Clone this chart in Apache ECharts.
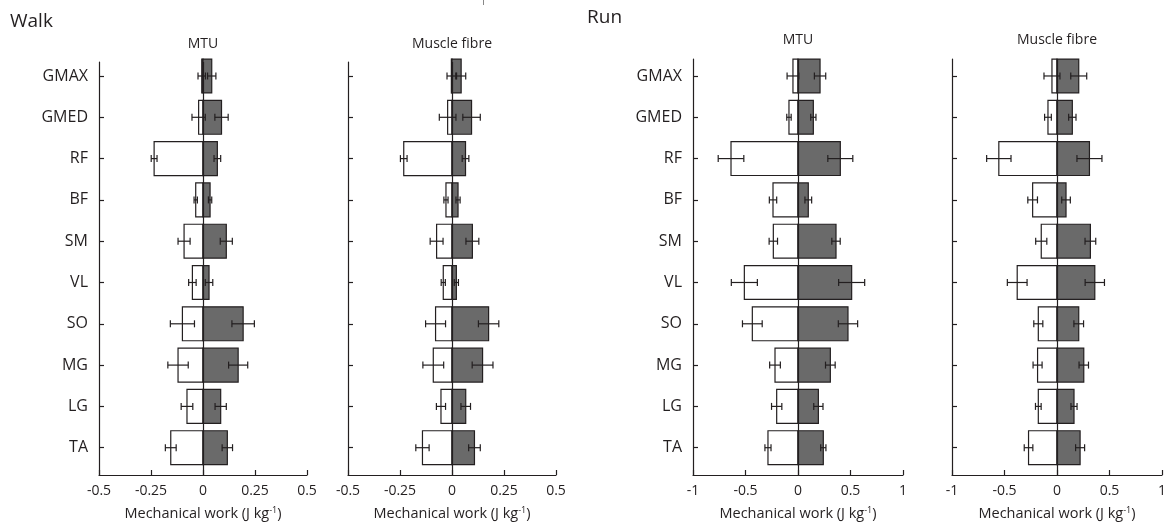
<!DOCTYPE html>
<html>
<head>
<meta charset="utf-8">
<script src="https://cdn.jsdelivr.net/npm/echarts@6/dist/echarts.min.js"></script>
<style>
  html, body { margin: 0; padding: 0; background: #fff; }
  #chart { width: 1169px; height: 530px; }
</style>
</head>
<body>
<div id="chart"></div>
<script>
// muscles, top to bottom
const muscles = ["GMAX", "GMED", "RF", "BF", "SM", "VL", "SO", "MG", "LG", "TA"];

// Walk - MTU (negative / positive work, mean and SD)
const walkMtuNeg   = [-0.006, -0.021, -0.235, -0.035, -0.091, -0.051, -0.099, -0.120, -0.077, -0.155];
const walkMtuNegSd = [0.018, 0.032, 0.014, 0.008, 0.029, 0.018, 0.058, 0.049, 0.028, 0.026];
const walkMtuPos   = [0.042, 0.089, 0.069, 0.034, 0.112, 0.029, 0.193, 0.169, 0.085, 0.117];
const walkMtuPosSd = [0.020, 0.032, 0.016, 0.008, 0.029, 0.018, 0.054, 0.046, 0.027, 0.025];

// Walk - muscle fibre
const walkFibNeg   = [-0.003, -0.021, -0.232, -0.029, -0.074, -0.042, -0.079, -0.090, -0.053, -0.142];
const walkFibNegSd = [0.021, 0.040, 0.016, 0.010, 0.031, 0.010, 0.048, 0.050, 0.022, 0.032];
const walkFibPos   = [0.044, 0.094, 0.065, 0.029, 0.098, 0.021, 0.176, 0.147, 0.066, 0.108];
const walkFibPosSd = [0.022, 0.042, 0.016, 0.010, 0.031, 0.010, 0.049, 0.050, 0.023, 0.028];

// Run - MTU
const runMtuNeg   = [-0.048, -0.086, -0.638, -0.238, -0.235, -0.511, -0.435, -0.219, -0.203, -0.286];
const runMtuNegSd = [0.056, 0.021, 0.122, 0.035, 0.040, 0.124, 0.094, 0.051, 0.049, 0.029];
const runMtuPos   = [0.210, 0.146, 0.403, 0.098, 0.362, 0.511, 0.476, 0.308, 0.194, 0.241];
const runMtuPosSd = [0.054, 0.025, 0.119, 0.032, 0.040, 0.124, 0.092, 0.046, 0.044, 0.025];

// Run - muscle fibre
const runFibNeg   = [-0.048, -0.086, -0.554, -0.232, -0.150, -0.379, -0.178, -0.185, -0.178, -0.271];
const runFibNegSd = [0.076, 0.032, 0.116, 0.046, 0.053, 0.094, 0.043, 0.043, 0.027, 0.041];
const runFibPos   = [0.207, 0.146, 0.309, 0.086, 0.318, 0.360, 0.207, 0.255, 0.162, 0.220];
const runFibPosSd = [0.076, 0.035, 0.119, 0.041, 0.051, 0.092, 0.046, 0.045, 0.029, 0.043];

const ink = "#231f20";
const darkFill = "#6a6a6a";
const font = "Open Sans";

const panels = [
  { title: "MTU", left: 99, width: 208, top: 62, yMin: -0.339, range: 0.5, step: 0.25, labels: true,
    neg: walkMtuNeg, negSd: walkMtuNegSd, pos: walkMtuPos, posSd: walkMtuPosSd, titleY: 44 },
  { title: "Muscle fibre", left: 348, width: 208, top: 62, yMin: -0.339, range: 0.5, step: 0.25, labels: false,
    neg: walkFibNeg, negSd: walkFibNegSd, pos: walkFibPos, posSd: walkFibPosSd, titleY: 44 },
  { title: "MTU", left: 693, width: 210, top: 59, yMin: -0.411, range: 1, step: 0.5, labels: true,
    neg: runMtuNeg, negSd: runMtuNegSd, pos: runMtuPos, posSd: runMtuPosSd, titleY: 40 },
  { title: "Muscle fibre", left: 952, width: 210, top: 59, yMin: -0.411, range: 1, step: 0.5, labels: false,
    neg: runFibNeg, negSd: runFibNegSd, pos: runFibPos, posSd: runFibPosSd, titleY: 40 }
];

function makeBar(fill) {
  return function (params, api) {
    const v = api.value(0);
    const i = api.value(1);
    const p0 = api.coord([0, i]);
    const p1 = api.coord([v, i]);
    const h = Math.abs(api.size([0, 1])[1]) * 0.82;
    return {
      type: "rect",
      shape: { x: Math.min(p0[0], p1[0]), y: p0[1] - h / 2, width: Math.abs(p1[0] - p0[0]), height: h },
      style: { fill: fill, stroke: ink, lineWidth: 1.2 }
    };
  };
}

function errorBar(params, api) {
  const v = api.value(0);
  const sd = api.value(1);
  const i = api.value(2);
  const a = api.coord([v - sd, i]);
  const b = api.coord([v + sd, i]);
  const cap = 3.5;
  const style = { stroke: ink, lineWidth: 1.2 };
  return {
    type: "group",
    children: [
      { type: "line", shape: { x1: a[0], y1: a[1], x2: b[0], y2: b[1] }, style: style },
      { type: "line", shape: { x1: a[0], y1: a[1] - cap, x2: a[0], y2: a[1] + cap }, style: style },
      { type: "line", shape: { x1: b[0], y1: b[1] - cap, x2: b[0], y2: b[1] + cap }, style: style }
    ]
  };
}

const grids = [], xAxes = [], yAxes = [], series = [], graphics = [];
const rows = muscles.map((m, i) => i);

panels.forEach((p, k) => {
  grids.push({ left: p.left, width: p.width, top: p.top, bottom: 55 });
  xAxes.push({
    gridIndex: k, type: "value", min: -p.range, max: p.range, interval: p.step,
    axisLine: { show: true, onZero: false, lineStyle: { color: ink, width: 1.2 } },
    axisTick: { show: true, inside: true, length: 5, lineStyle: { color: ink, width: 1.2 } },
    axisLabel: { margin: 9, color: ink, fontFamily: font, fontSize: 14 },
    splitLine: { show: false },
    name: "Mechanical work (J kg{sup|-1})",
    nameLocation: "middle", nameGap: 31,
    nameTextStyle: {
      color: ink, fontFamily: font, fontSize: 14.5,
      rich: { sup: { fontSize: 9, verticalAlign: "top", padding: [0, 0, 7, 0], color: ink, fontFamily: font } }
    }
  });
  yAxes.push({
    gridIndex: k, type: "value", inverse: true, min: p.yMin, max: 9.661,
    axisLine: { show: true, onZero: false, lineStyle: { color: ink, width: 1.2 } },
    axisTick: { show: true, inside: true, length: 5, customValues: rows, lineStyle: { color: ink, width: 1.2 } },
    axisLabel: {
      show: p.labels, customValues: rows, margin: 11, color: ink, fontFamily: font, fontSize: 16,
      formatter: v => muscles[Math.round(v)]
    },
    splitLine: { show: false }
  });

  series.push({
    type: "custom", xAxisIndex: k, yAxisIndex: k, renderItem: makeBar("#ffffff"),
    encode: { x: 0, y: 1 },
    data: p.neg.map((v, i) => [v, i]),
    markLine: {
      silent: true, symbol: "none", label: { show: false },
      lineStyle: { color: ink, width: 1.2, type: "solid" },
      data: [{ xAxis: 0 }]
    }
  });
  series.push({
    type: "custom", xAxisIndex: k, yAxisIndex: k, renderItem: makeBar(darkFill),
    encode: { x: 0, y: 1 },
    data: p.pos.map((v, i) => [v, i])
  });
  series.push({
    type: "custom", xAxisIndex: k, yAxisIndex: k, renderItem: errorBar,
    encode: { x: 0, y: 2 },
    data: p.neg.map((v, i) => [v, p.negSd[i], i]).concat(p.pos.map((v, i) => [v, p.posSd[i], i]))
  });

  graphics.push({
    type: "text", x: p.left + p.width / 2, y: p.titleY,
    style: { text: p.title, fill: ink, font: "14px '" + font + "'", textAlign: "center", textVerticalAlign: "middle" }
  });
});

graphics.push({
  type: "text", x: 10, y: 22,
  style: { text: "Walk", fill: ink, font: "19px '" + font + "'", textAlign: "left", textVerticalAlign: "middle" }
});
graphics.push({
  type: "text", x: 587, y: 18,
  style: { text: "Run", fill: ink, font: "19px '" + font + "'", textAlign: "left", textVerticalAlign: "middle" }
});
graphics.push({
  type: "line", shape: { x1: 483.5, y1: 0, x2: 483.5, y2: 5 }, style: { stroke: "#888", lineWidth: 1 }
});

const chart = echarts.init(document.getElementById("chart"), null, { renderer: "canvas" });
chart.setOption({
  animation: false,
  backgroundColor: "#fff",
  grid: grids,
  xAxis: xAxes,
  yAxis: yAxes,
  series: series,
  graphic: graphics
});
</script>
</body>
</html>
